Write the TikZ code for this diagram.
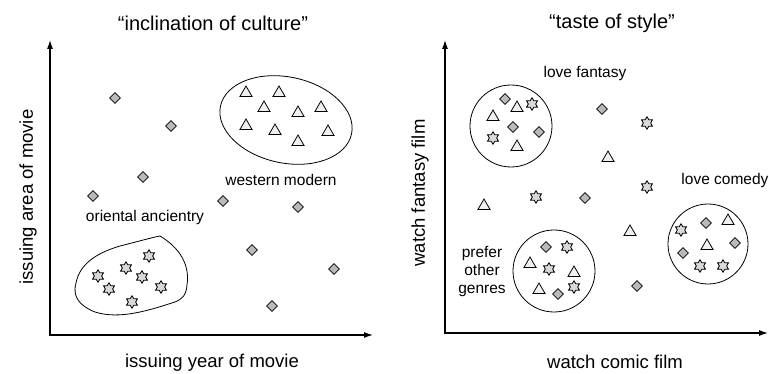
\documentclass[tikz,border=0pt]{standalone}
\usepackage{fontspec}
\setmainfont{Liberation Sans}
\usetikzlibrary{arrows.meta, shapes.geometric}

\tikzset{
  axis/.style={{Latex[length=9pt,width=6pt]}-{Latex[length=9pt,width=6pt]}, line width=1.1pt},
  group/.style={line width=0.8pt},
  dmark/.style={diamond, draw, line width=0.8pt, fill=gray!55, inner sep=0pt, minimum size=11pt},
  tmark/.style={regular polygon, regular polygon sides=3, draw, line width=0.8pt, fill=gray!12, inner sep=0pt, minimum size=14pt},
  smark/.style={star, star points=6, star point ratio=1.7, draw, line width=0.8pt, fill=gray!30, inner sep=0pt, minimum size=12.5pt},
  title/.style={font=\fontsize{20}{22}\selectfont},
  axlabel/.style={font=\fontsize{18.5}{20}\selectfont},
  glabel/.style={font=\fontsize{15.5}{18}\selectfont, align=center}
}

\begin{document}
\begin{tikzpicture}[x=1pt, y=-1pt]
  \useasboundingbox (0,0) rectangle (769,374);

  % left: inclination of culture
  \coordinate (OL) at (50,335);
  \coordinate (XL) at (373,335);
  \coordinate (YL) at (50,40);
  \draw[axis] (YL) -- (OL) -- (XL);

  \node[title] (tl) at (213,23) {“inclination of culture”};
  \node[axlabel] (xl) at (212,363) {issuing year of movie};
  \node[axlabel, rotate=90] (yl) at (28,197) {issuing area of movie};

  \draw[group, rotate around={-12:(286,120)}] (286,120) ellipse (67 and 43);
  \draw[group] (160,236) .. controls (180,248) and (190,265) .. (187,285)
    .. controls (186,296) and (182,299) .. (175,302)
    .. controls (150,310) and (120,320) .. (95,312)
    .. controls (80,306) and (72,297) .. (76,283)
    .. controls (80,262) and (100,252) .. (120,246)
    .. controls (140,241) and (150,238) .. (160,236);

  \node[glabel] (west) at (281,180) {western modern};
  \node[glabel] (orient) at (145,217) {oriental ancientry};

  \foreach \p [count=\i] in {(115,98), (171,126), (143,177), (93,196), (223,201),
      (298,207), (252,250), (334,269), (272,306)}
    \node[dmark] (dl\i) at \p {};
  \foreach \p [count=\i] in {(246,93), (279,93), (264,108), (298,113), (321,108),
      (246,126), (275,131), (298,142), (328,132)}
    \node[tmark] (tl\i) at \p {};
  \foreach \p [count=\i] in {(149,256), (126,268), (98,276), (142,277), (109,289),
      (161,287), (132,302)}
    \node[smark] (sl\i) at \p {};

  % right: taste of style
  \coordinate (OR) at (445,333);
  \coordinate (XR) at (768,333);
  \coordinate (YR) at (445,40);
  \draw[axis] (YR) -- (OR) -- (XR);

  \node[title] (tr) at (612,23) {“taste of style”};
  \node[axlabel] (xr) at (615,362) {watch comic film};
  \node[axlabel, rotate=90] (yr) at (420,193) {watch fantasy film};

  \draw[group] (511,126) circle (41);
  \draw[group] (554,271) circle (41);
  \draw[group] (708,244) circle (40);

  \node[glabel] (fan) at (585,73) {love fantasy};
  \node[glabel] (com) at (725,180) {love comedy};
  \node[glabel] (oth) at (482,272) {prefer\\other\\genres};

  \foreach \p [count=\i] in {(505,99), (513,127), (539,132), (602,109), (585,198),
      (637,286), (546,247), (558,294), (706,223), (735,243), (683,253)}
    \node[dmark] (dr\i) at \p {};
  \foreach \p [count=\i] in {(517,108), (493,117), (517,147), (608,158), (484,206),
      (630,232), (530,264), (574,273), (539,290), (728,221), (707,246)}
    \node[tmark] (tr\i) at \p {};
  \foreach \p [count=\i] in {(532,104), (493,138), (647,123), (647,187), (536,197),
      (567,247), (549,269), (574,287), (681,230), (700,266), (723,266)}
    \node[smark] (sr\i) at \p {};
\end{tikzpicture}
\end{document}
